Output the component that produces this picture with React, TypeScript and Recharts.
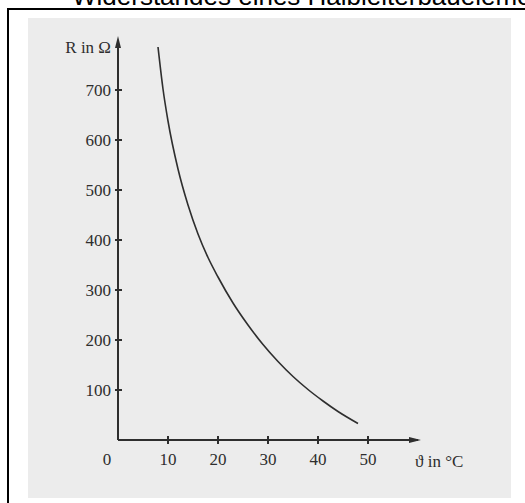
import { LineChart, Line, XAxis, YAxis, ReferenceDot } from 'recharts'

// temperature in °C and resistance in Ohm
const temps = [8, 9, 10, 12, 14, 16, 18, 20, 23, 26, 29, 32, 35, 38, 41, 44, 48]
const resist = [786, 702, 638, 542, 470, 412, 365, 326, 274, 230, 191, 157, 127, 101, 78, 57, 33]
const xTicks = [0, 10, 20, 30, 40, 50]
const yTicks = [100, 200, 300, 400, 500, 600, 700]

const data = temps.map((t, i) => ({ t, r: resist[i] }))

const INK = '#2e2e2e'
const SERIF = '"Liberation Serif", "DejaVu Serif", serif'

function XTick(props: any) {
    const { x, y, payload } = props
    if (payload.value === 0) {
        return <text x={x - 11} y={y + 25} textAnchor="middle" fontSize={17} fontFamily={SERIF} fill={INK}>0</text>
    }
    return (
        <g>
            <line x1={x} x2={x} y1={y - 4} y2={y + 4} stroke={INK} strokeWidth={2} />
            <text x={x} y={y + 25} textAnchor="middle" fontSize={17} fontFamily={SERIF} fill={INK}>{payload.value}</text>
        </g>
    )
}

function YTick(props: any) {
    const { x, y, payload } = props
    return (
        <g>
            <line x1={x - 3} x2={x + 4} y1={y} y2={y} stroke={INK} strokeWidth={2} />
            <text x={x - 7} y={y + 6} textAnchor="end" fontSize={17} fontFamily={SERIF} fill={INK}>{payload.value}</text>
        </g>
    )
}

const arrowUp = (p: any) => (
    <g>
        <polygon points={`${p.cx},${p.cy - 4} ${p.cx - 3},${p.cy + 8} ${p.cx + 3},${p.cy + 8}`} fill={INK} />
        <text x={p.cx - 7} y={p.cy + 13} textAnchor="end" fontSize={17} fontFamily={SERIF} fill={INK}>R in Ω</text>
    </g>
)

const arrowRight = (p: any) => (
    <g>
        <polygon points={`${p.cx + 3},${p.cy} ${p.cx - 9},${p.cy - 3} ${p.cx - 9},${p.cy + 3}`} fill={INK} />
        <text x={p.cx - 3} y={p.cy + 27} textAnchor="start" fontSize={17} fontFamily={SERIF} fill={INK}>ϑ in °C</text>
    </g>
)

export default function App() {
    return (
        <div style={{ position: 'absolute', left: 0, top: 0, width: 525, height: 503, overflow: 'hidden', background: '#fff' }}>
            <svg width={525} height={20} style={{ position: 'absolute', left: 0, top: 0 }}>
                <text x={72} y={5} fontSize={26} fontFamily='"Liberation Sans", Arial, sans-serif' fill="#000">
                    Widerstandes eines Halbleiterbauelements
                </text>
            </svg>
            <div style={{ position: 'absolute', left: 7, top: 8, width: 600, height: 600, borderLeft: '2px solid #000', borderTop: '2px solid #000' }} />
            <div style={{ position: 'absolute', left: 28, top: 18, width: 483, height: 480, background: '#ececec' }}>
                <LineChart width={483} height={480} data={data} margin={{ top: 22, right: 93, bottom: 57, left: 89 }}>
                    <XAxis
                        dataKey="t"
                        type="number"
                        domain={[0, 60]}
                        ticks={xTicks}
                        height={1}
                        tickSize={0}
                        tickMargin={0}
                        tickLine={false}
                        axisLine={{ stroke: INK, strokeWidth: 2 }}
                        tick={<XTick />}
                        interval={0}
                    />
                    <YAxis
                        type="number"
                        domain={[0, 800]}
                        ticks={yTicks}
                        width={1}
                        tickSize={0}
                        tickMargin={0}
                        tickLine={false}
                        axisLine={{ stroke: INK, strokeWidth: 2 }}
                        tick={<YTick />}
                        interval={0}
                    />
                    <Line type="monotone" dataKey="r" stroke={INK} strokeWidth={1.6} dot={false} isAnimationActive={false} />
                    <ReferenceDot x={0} y={800} r={0} ifOverflow="visible" shape={arrowUp} />
                    <ReferenceDot x={60} y={0} r={0} ifOverflow="visible" shape={arrowRight} />
                </LineChart>
            </div>
        </div>
    )
}
